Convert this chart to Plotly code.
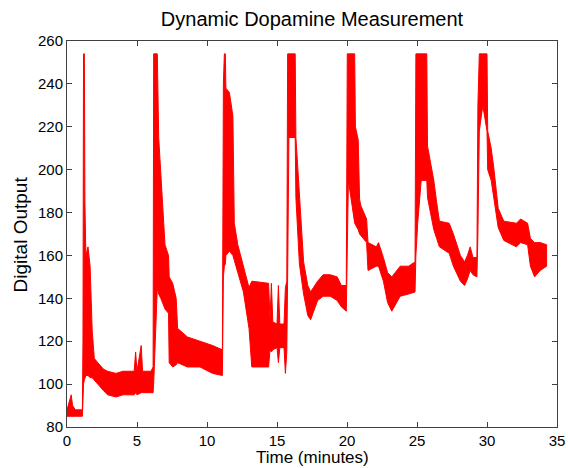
import plotly.graph_objects as go

t_min = [0.00, 0.20, 0.30, 0.40, 0.60, 1.10, 1.14, 1.18, 1.24, 1.28, 1.35, 1.50, 1.65, 1.80, 1.95,
         2.20, 2.60, 2.90, 3.50, 4.00, 4.80, 4.90, 5.00, 5.30, 5.40, 6.00, 6.15, 6.19, 6.45, 6.55,
         6.70, 6.85, 7.00, 7.25, 7.30, 7.55, 7.80, 7.90, 8.60, 9.50, 10.40, 11.10, 11.13, 11.17,
         11.24, 11.31, 11.35, 11.60, 11.85, 11.95, 12.20, 12.60, 13.00, 13.20, 14.40, 14.50, 14.60,
         14.70, 15.00, 15.10, 15.20, 15.50, 15.60, 15.70, 15.76, 15.85, 16.30, 16.35, 16.60, 16.90,
         17.20, 17.40, 17.60, 17.90, 18.30, 18.80, 19.30, 19.60, 19.95, 20.02, 20.10, 20.55, 20.60,
         20.80, 20.90, 21.00, 21.40, 21.50, 22.10, 22.25, 22.60, 22.90, 23.20, 23.80, 24.40, 24.86,
         24.92, 25.05, 25.30, 25.70, 25.75, 26.20, 26.40, 26.60, 27.30, 27.60, 28.10, 28.40, 28.60,
         28.80, 29.00, 29.28, 29.35, 29.45, 29.70, 30.00, 30.05, 30.30, 30.50, 30.80, 31.20, 32.10,
         32.40, 32.90, 33.10, 33.40, 33.80, 34.26]
low_out = [85, 85, 85, 85, 85, 85, 86, 100, 102, 103, 104, 104, 103, 103, 102,
           100, 97, 95, 94, 95, 95, 96, 95, 96, 96, 96, 96, 100, 145, 142,
           140, 138, 135, 133, 110, 108, 109, 110, 108, 108, 105, 104, 105, 150,
           155, 156, 160, 162, 160, 158, 152, 143, 126, 108, 108, 116, 115,
           116, 117, 110, 117, 117, 105, 115, 150, 215, 215, 187, 156, 142,
           132, 130, 134, 139, 141, 141, 139, 136, 134, 160, 195, 175, 175,
           172, 170, 169, 166, 153, 155, 155, 148, 138, 134, 141, 142, 143,
           160, 175, 195, 195, 187, 172, 168, 164, 161, 155, 148, 146, 149,
           153, 151, 150, 170, 218, 230, 218, 200, 195, 185, 173, 167, 164,
           166, 165, 155, 150, 153, 155]
high_out = [88, 92, 95, 90, 88, 88, 120, 254, 254, 185, 160, 164, 155, 125, 112,
            110, 107, 106, 105, 106, 106, 115, 106, 118, 106, 106, 108, 254, 254, 215,
            198, 185, 165, 160, 150, 147, 140, 126, 122, 120, 118, 116, 160, 240,
            254, 254, 238, 236, 225, 175, 165, 155, 145, 148, 147, 130, 147,
            129, 128, 146, 128, 128, 145, 148, 254, 254, 254, 215, 187, 157,
            146, 143, 145, 148, 151, 151, 150, 146, 146, 254, 254, 254, 220,
            214, 186, 183, 177, 166, 164, 166, 159, 152, 150, 155, 155, 157,
            254, 254, 254, 254, 211, 195, 185, 176, 175, 170, 160, 157, 160,
            164, 159, 159, 230, 254, 254, 254, 218, 210, 200, 182, 176, 175,
            177, 175, 168, 166, 166, 165]

x_ticks = [0, 5, 10, 15, 20, 25, 30, 35]
y_ticks = [80, 100, 120, 140, 160, 180, 200, 220, 240, 260]

FONT = "Liberation Sans, Arial, sans-serif"

fig = go.Figure()
fig.add_trace(go.Scatter(
    x=t_min + t_min[::-1],
    y=high_out + low_out[::-1],
    mode="lines",
    fill="toself",
    fillcolor="#ff0000",
    line=dict(color="#ff0000", width=1),
    hoverinfo="skip",
    showlegend=False,
))

axis_common = dict(
    showgrid=False, zeroline=False, showline=True, linecolor="#404040", linewidth=1,
    mirror="ticks", ticks="inside", ticklen=5, tickcolor="#404040", automargin=False,
    tickfont=dict(family=FONT, size=15, color="black"),
)

fig.update_layout(
    width=568, height=468,
    margin=dict(l=67, r=11, t=41, b=41),
    paper_bgcolor="white", plot_bgcolor="white",
    font=dict(family=FONT, color="black"),
    title=dict(text="Dynamic Dopamine Measurement", x=0.5, xref="paper",
               y=1 - 19 / 468, yref="container", yanchor="middle",
               font=dict(family=FONT, size=20, color="black")),
    xaxis=dict(range=[0, 35], tickvals=x_ticks, **axis_common),
    yaxis=dict(range=[80, 260], tickvals=y_ticks, **axis_common),
    annotations=[
        dict(text="Time (minutes)", xref="paper", yref="paper", x=0.5, y=-0.0785,
             yanchor="middle", borderpad=0, showarrow=False,
             font=dict(family=FONT, size=17, color="black")),
        dict(text="Digital Output", xref="paper", yref="paper", x=-0.095, y=0.5,
             xanchor="center", yanchor="middle", textangle=-90, showarrow=False,
             font=dict(family=FONT, size=19, color="black")),
    ],
)

fig.write_html("out.html", config={"displayModeBar": False},
               post_script="document.body.style.margin='0';document.body.style.overflow='hidden';")
